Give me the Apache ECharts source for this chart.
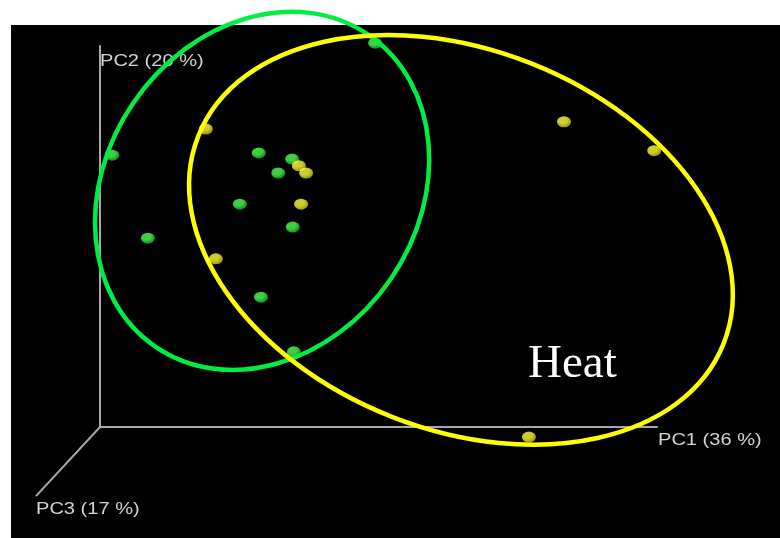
<!DOCTYPE html>
<html style="height: 100%">
   <head>
       <meta charset="utf-8">
   </head>
   <body style="height: 100%; margin: 0; background: #fff">
       <div id="container" style="width: 780px; height: 538px"></div>
       <script src="https://cdn.jsdelivr.net/npm/echarts@6.0.0/dist/echarts.min.js"></script>
       <script type="text/javascript">
// PCA scores, plotted on PC1 (x) / PC2 (y); same units on both axes
var greenScores = [
    [2.2, 48.8], [28.5, 49.2], [34.5, 48.1], [32.0, 45.6], [25.1, 40.0],
    [8.6, 33.9], [34.6, 35.9], [28.9, 23.3], [49.4, 68.9], [34.8, 13.5]
];
var yellowScores = [
    [19.0, 53.5], [35.7, 46.9], [37.0, 45.6], [36.1, 40.0], [20.8, 30.2],
    [83.3, 54.8], [99.5, 49.6], [77.0, -1.8]
];
// group ellipses: centre x, centre y, semi-axis a, semi-axis b, tilt (deg)
var greenEllipse = [29.1, 42.4, 33.9, 28.0, 55.7];
var yellowEllipse = [64.8, 33.6, 50.7, 34.1, -21.5];
// third axis drawn in perspective: from origin to its far end
var pc3Axis = [0, 0, -11.5, -12.4];
var axisNames = ['PC1 (36 %)', 'PC2 (20 %)', 'PC3 (17 %)'];
var groupLabel = 'Heat';

var dom = document.getElementById("container");
var myChart = echarts.init(dom);

function ball(c1, c2) {
    return {
        type: 'radial', x: 0.4, y: 0.35, r: 0.7,
        colorStops: [{offset: 0, color: c1}, {offset: 0.45, color: c1}, {offset: 1, color: c2}]
    };
}

function renderEllipse(params, api) {
    var c = api.coord([api.value(0), api.value(1)]);
    var s = api.size([api.value(2), api.value(3)]);
    return {
        type: 'ellipse',
        x: c[0],
        y: c[1],
        rotation: api.value(4) * Math.PI / 180,
        shape: {cx: 0, cy: 0, rx: s[0], ry: s[1]},
        style: {fill: 'none', stroke: api.visual('color'), lineWidth: 4.5}
    };
}

function renderAxis(params, api) {
    var p1 = api.coord([api.value(0), api.value(1)]);
    var p2 = api.coord([api.value(2), api.value(3)]);
    return {
        type: 'line',
        shape: {x1: p1[0], y1: p1[1], x2: p2[0], y2: p2[1]},
        style: {stroke: '#a8a8a8', lineWidth: 2}
    };
}

var labelFont = '17px "Liberation Sans", Arial, sans-serif';

var option = {
    backgroundColor: '#fff',
    animation: false,
    grid: {left: 100, right: 123, top: 46, bottom: 111},
    xAxis: {
        type: 'value', min: 0, max: 100,
        axisLine: {lineStyle: {color: '#a8a8a8', width: 2}},
        axisTick: {show: false}, axisLabel: {show: false}, splitLine: {show: false}
    },
    yAxis: {
        type: 'value', min: 0, max: 68.4,
        axisLine: {show: true, lineStyle: {color: '#a8a8a8', width: 2}},
        axisTick: {show: false}, axisLabel: {show: false}, splitLine: {show: false}
    },
    graphic: [
        {type: 'rect', z: -10, silent: true, shape: {x: 11, y: 25, width: 769, height: 513}, style: {fill: '#000'}},
        {type: 'text', z: 1, x: 100, y: 53, scaleX: 1.18, style: {text: axisNames[1], fill: '#d4d4d4', font: labelFont}},
        {type: 'text', z: 1, x: 658, y: 432, scaleX: 1.18, style: {text: axisNames[0], fill: '#d4d4d4', font: labelFont}},
        {type: 'text', z: 1, x: 36, y: 501, scaleX: 1.18, style: {text: axisNames[2], fill: '#d4d4d4', font: labelFont}},
        {type: 'text', z: 1, x: 528, y: 341, style: {text: groupLabel, fill: '#fff', font: '47px "Liberation Serif", "Times New Roman", serif'}}
    ],
    series: [
        {
            type: 'custom', renderItem: renderAxis, clip: false, silent: true,
            data: [pc3Axis]
        },
        {
            type: 'scatter', data: greenScores, clip: false, z: 3,
            symbolSize: [14, 11],
            itemStyle: {color: ball('#55ff55', '#00b020')}
        },
        {
            type: 'scatter', data: yellowScores, clip: false, z: 3,
            symbolSize: [14, 11],
            itemStyle: {color: ball('#ffff40', '#b8b800')}
        },
        {
            type: 'custom', renderItem: renderEllipse, clip: false, z: 4,
            data: [greenEllipse], itemStyle: {color: '#00ee44'}
        },
        {
            type: 'custom', renderItem: renderEllipse, clip: false, z: 4,
            data: [yellowEllipse], itemStyle: {color: '#ffff00'}
        }
    ]
};

myChart.setOption(option);
       </script>
   </body>
</html>
